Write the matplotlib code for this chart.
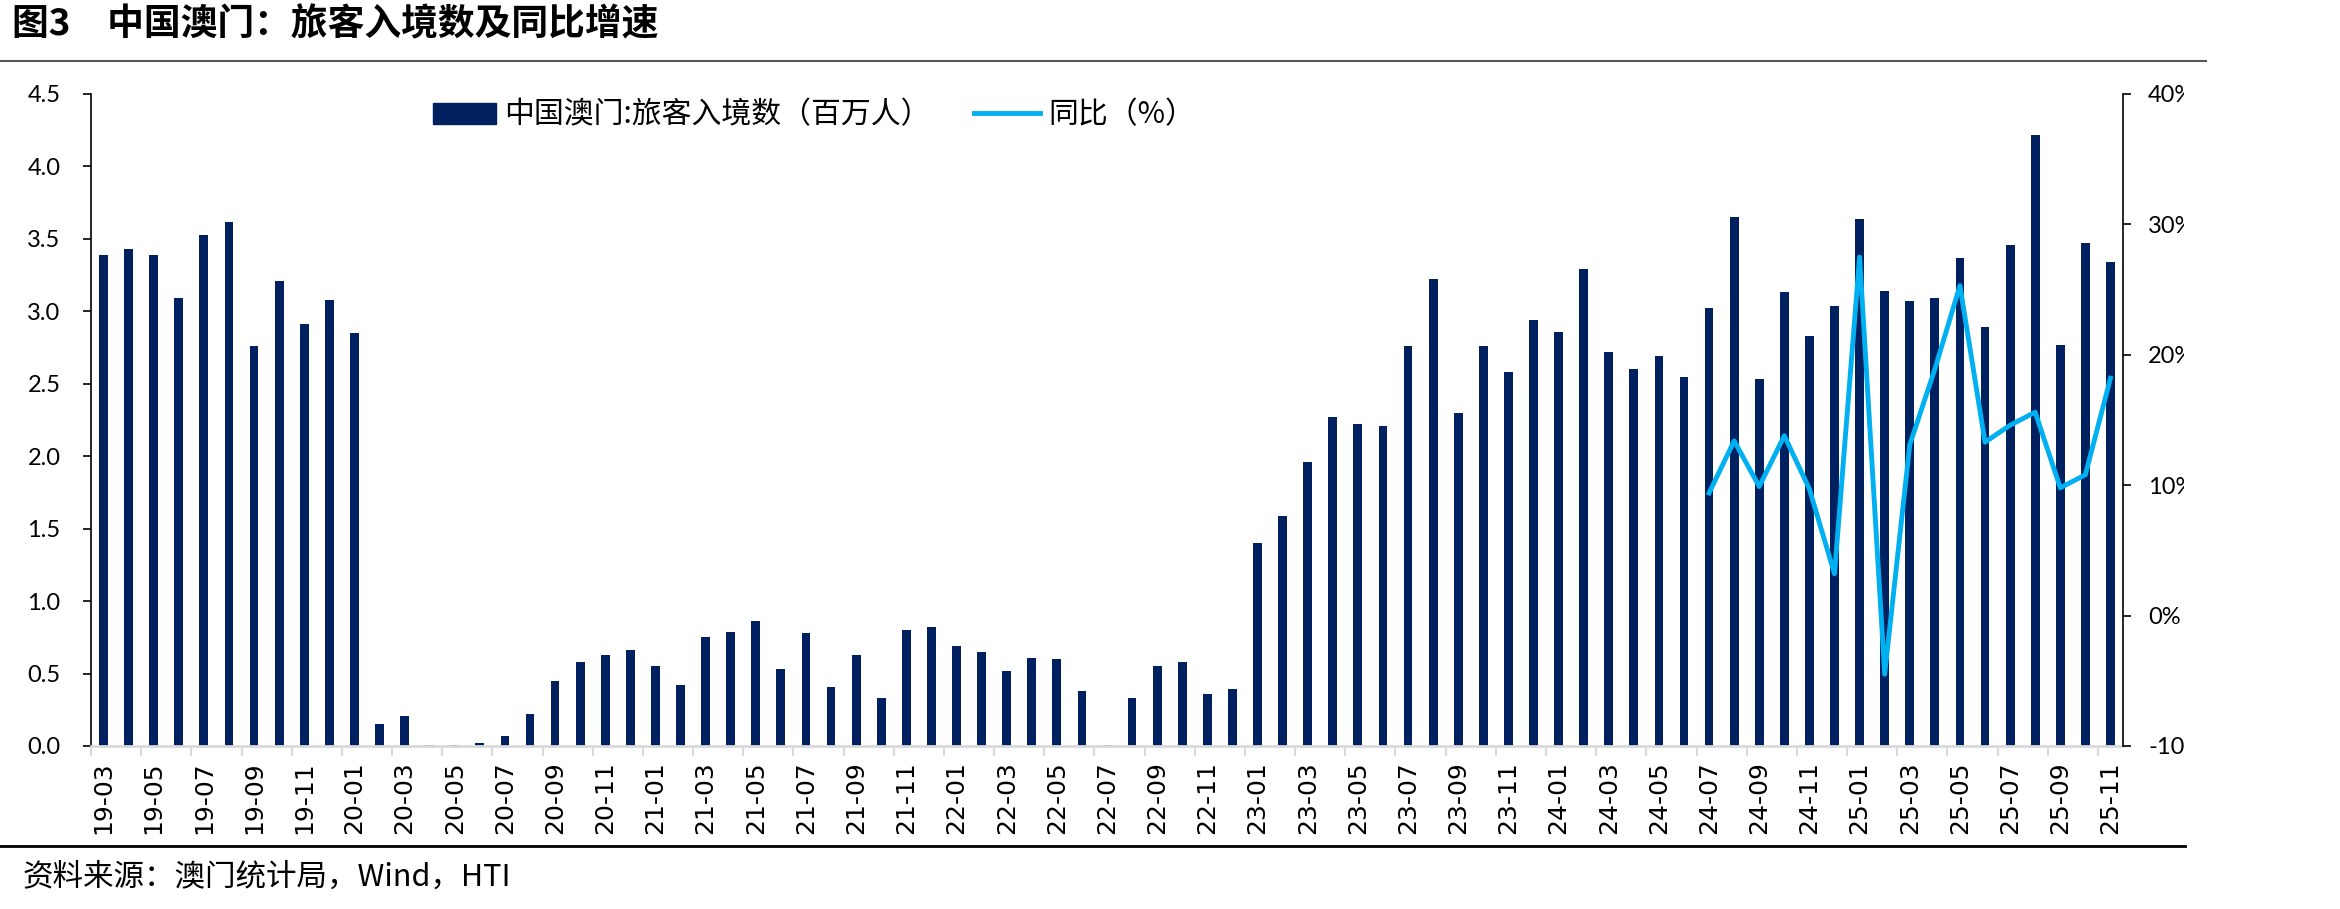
import numpy as np
import pandas as pd
import matplotlib
matplotlib.use('Agg')
import matplotlib.pyplot as plt
from matplotlib.patches import Patch
from matplotlib.lines import Line2D
from matplotlib.transforms import Bbox, TransformedBbox

plt.rcParams['font.family'] = ['Noto Sans CJK SC', 'DejaVu Sans']

# 月份 19-03 ... 25-11
months = [p.strftime('%y-%m') for p in pd.period_range('2019-03', '2025-11', freq='M')]

# 旅客入境数（百万人）
arrivals = [
    3.39, 3.43, 3.39, 3.09, 3.53, 3.62, 2.76, 3.21, 2.91, 3.08,   # 19-03 .. 19-12
    2.85, 0.15, 0.21, 0.01, 0.01, 0.02, 0.07, 0.22, 0.45, 0.58, 0.63, 0.66,  # 20
    0.55, 0.42, 0.75, 0.79, 0.86, 0.53, 0.78, 0.41, 0.63, 0.33, 0.80, 0.82,  # 21
    0.69, 0.65, 0.52, 0.61, 0.60, 0.38, 0.01, 0.33, 0.55, 0.58, 0.36, 0.39,  # 22
    1.40, 1.59, 1.96, 2.27, 2.22, 2.21, 2.76, 3.22, 2.30, 2.76, 2.58, 2.94,  # 23
    2.86, 3.29, 2.72, 2.60, 2.69, 2.55, 3.02, 3.65, 2.53, 3.13, 2.83, 3.04,  # 24
    3.64, 3.14, 3.07, 3.09, 3.37, 2.89, 3.46, 4.22, 2.77, 3.47, 3.34,        # 25-01 .. 25-11
]

# 同比（%），24-07 起
yoy_start = '24-07'
yoy = [9.4, 13.4, 9.9, 13.8, 9.7, 3.2, 27.5, -4.5, 13.1, 18.9, 25.3,
       13.3, 14.6, 15.6, 9.8, 10.8, 18.2]

bar_color = '#002060'
line_color = '#00B0F0'
W, H = 2340, 909

fig = plt.figure(figsize=(W / 100, H / 100), dpi=100)
ax = fig.add_axes([91 / W, 1 - 746 / H, (2123 - 91) / W, (746 - 94) / H])

x = np.arange(len(months))
ax.bar(x, arrivals, width=0.35, color=bar_color)
ax.set_xlim(-0.5, len(months) - 0.5)
ax.set_ylim(0, 4.5)
ax.set_yticks(np.arange(0, 4.51, 0.5))
ax.set_yticklabels([f'{v:.1f}' for v in np.arange(0, 4.51, 0.5)],
                   fontfamily=['Lato', 'DejaVu Sans'], fontsize=17)
ax.tick_params(axis='y', length=6, width=1.2, pad=16)

ax.set_xticks(x[::2])
ax.set_xticklabels(months[::2], rotation=90, fontfamily='DejaVu Sans', fontsize=18)
ax.set_xticks(np.arange(-0.5, len(months) - 1, 2), minor=True)
ax.tick_params(axis='x', which='major', length=0, pad=11)
ax.tick_params(axis='x', which='minor', length=7, width=1.5, color='#D9D9D9')

ax.spines['top'].set_visible(False)
ax.spines['right'].set_visible(False)
ax.spines['bottom'].set_color('#D9D9D9')
ax.spines['bottom'].set_linewidth(2)
ax.spines['left'].set_linewidth(1.2)

ax2 = ax.twinx()
i0 = months.index(yoy_start)
ax2.plot(x[i0:i0 + len(yoy)], yoy, color=line_color, lw=3.5, solid_joinstyle='round')
ax2.set_ylim(-10, 40)
ax2.set_yticks(range(-10, 41, 10))
ax2.set_yticklabels([f'{v}%' for v in range(-10, 41, 10)],
                    fontfamily=['Lato', 'DejaVu Sans'], fontsize=17)
ax2.tick_params(axis='y', length=6, width=1.2, pad=12)
for s in ['top', 'left', 'bottom']:
    ax2.spines[s].set_visible(False)
ax2.spines['right'].set_linewidth(1.2)

# right labels are cut off at the chart edge in the source
clip = TransformedBbox(Bbox([[0, 0], [2184 / W, 1]]), fig.transFigure)
for t in ax2.yaxis.get_major_ticks():
    t.label2.set_clip_box(clip)
    t.label2.set_clip_on(True)

# legends
fig.legend([Patch(color=bar_color)], ['中国澳门:旅客入境数（百万人）'],
           loc='center left', bbox_to_anchor=(433 / W, 1 - 115 / H), frameon=False,
           fontsize=21.5, handlelength=2.1, handletextpad=0.28, borderpad=0, borderaxespad=0)
fig.legend([Line2D([], [], color=line_color, lw=3.5)], ['同比（%）'],
           loc='center left', bbox_to_anchor=(974 / W, 1 - 115 / H), frameon=False,
           fontsize=21.5, handlelength=2.2, handletextpad=0.3, borderpad=0, borderaxespad=0)

# title, rules, source
fig.text(12 / W, 1 - 25 / H, '图3\u3000中国澳门：旅客入境数及同比增速',
         fontsize=26.5, fontweight='bold', ha='left', va='center')
fig.add_artist(Line2D([0, 2206 / W], [1 - 61 / H] * 2, transform=fig.transFigure,
                      color='#595959', lw=1.5))
fig.add_artist(Line2D([0, 2185 / W], [1 - 846 / H] * 2, transform=fig.transFigure,
                      color='black', lw=2))
fig.text(22 / W, 1 - 877 / H, '资料来源：澳门统计局，Wind，HTI',
         fontsize=22, ha='left', va='center')

fig.savefig('out.png', dpi=100)
